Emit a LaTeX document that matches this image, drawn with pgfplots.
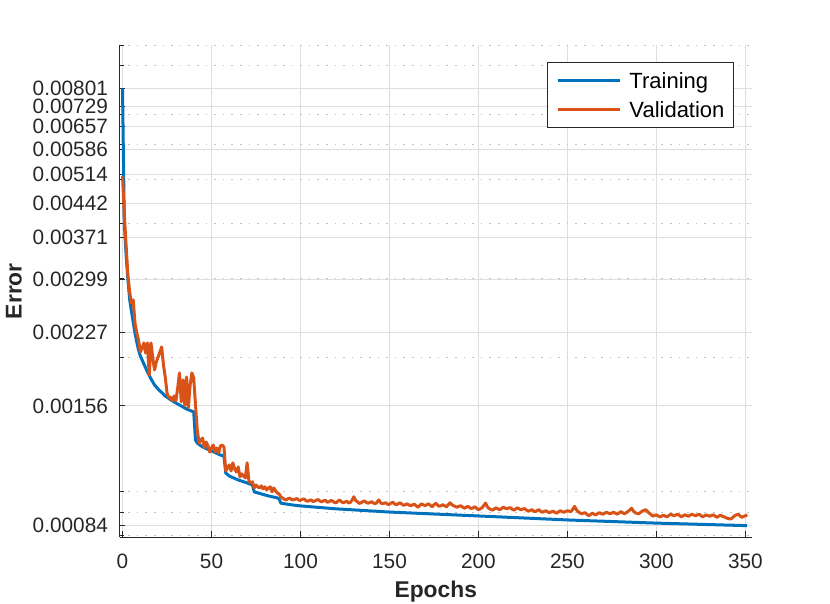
\documentclass[border=0pt]{standalone}
\usepackage{fontspec}
\setmainfont{Liberation Sans}
\usepackage{pgfplots}
\pgfplotsset{compat=1.18}
\definecolor{mblue}{rgb}{0,0.447,0.741}
\definecolor{morange}{rgb}{0.85,0.325,0.098}
\definecolor{axgray}{rgb}{0.15,0.15,0.15}
\definecolor{majgrid}{rgb}{0.87,0.87,0.87}
\definecolor{mingrid}{rgb}{0.76,0.76,0.76}
\begin{document}
\begin{tikzpicture}
\useasboundingbox (0,0) rectangle (415pt,302pt);
\begin{axis}[
  at={(59.75pt,33.35pt)}, anchor=south west,
  scale only axis, width=316.25pt, height=246.15pt,
  ymode=log,
  xmin=-1.7, xmax=353.7, ymin=0.000791, ymax=0.010016,
  axis x line*=bottom, axis y line*=left,
  axis line style={axgray, line width=0.5pt},
  xtick={0,50,100,150,200,250,300,350},
  xticklabels={0,50,100,150,200,250,300,350},
  ytick={0.00084,0.001557,0.002274,0.002991,0.003708,0.004425,0.005142,0.005859,0.006576,0.007293,0.00801},
  yticklabels={0.00084,0.00156,0.00227,0.00299,0.00371,0.00442,0.00514,0.00586,0.00657,0.00729,0.00801},
  minor ytick={0.0008,0.0009,0.001,0.002,0.003,0.004,0.005,0.006,0.007,0.008,0.009,0.01},
  tick align=inside, major tick length=3pt, minor tick length=2pt,
  tick style={axgray, line width=0.5pt},
  xmajorgrids, ymajorgrids, yminorgrids,
  major grid style={majgrid, line width=0.5pt, solid},
  minor grid style={mingrid, line width=0.5pt, dash pattern=on 0.8pt off 3.5pt},
  xticklabel style={font=\fontsize{10.4}{12}\selectfont, anchor=base, inner sep=0pt, yshift=-15.5pt, text=axgray},
  yticklabel style={font=\fontsize{10.4}{12}\selectfont, anchor=east, inner sep=0pt, xshift=-5.6pt, text=axgray},
  xlabel={Epochs}, ylabel={Error},
  xlabel style={font=\fontsize{11.4}{13}\selectfont\bfseries, at={(axis description cs:0.5,-0.1213)}, anchor=base, text=axgray},
  ylabel style={font=\fontsize{11.4}{13}\selectfont\bfseries, at={(axis description cs:-0.1668,0.5)}, anchor=center, text=axgray},
  legend style={at={(axis description cs:0.9715,0.9655)}, anchor=north east, draw=axgray, line width=0.5pt, fill=white,
    font=\fontsize{11}{13}\selectfont, inner xsep=4.5pt, inner ysep=3.75pt, row sep=3.9pt, column sep=4.2pt,
    nodes={inner sep=0pt, text height=9.25pt, text depth=1.25pt}},
  legend cell align=left,
  legend image code/.code={\draw[#1, line width=1.5pt] (0pt,0pt) -- (31pt,0pt);},
]
\addplot[mblue, line width=1.5pt, line join=round] table {
x y
0 0.00801
1 0.00400
2 0.00340
3 0.00300
4 0.00270
5 0.00254
6 0.002401
7 0.002269
8 0.002166
9 0.002078
10 0.002015
12 0.001934
14 0.001855
16 0.001790
18 0.001735
20 0.001699
24 0.001639
28 0.001598
32 0.001565
36 0.001533
40 0.001510
41 0.001306
42 0.001286
45 0.001260
50 0.001235
55 0.001209
57 0.001203
58 0.001102
60 0.001085
65 0.001063
70 0.001047
73 0.001036
74 0.0009996
78 0.000989
82 0.000979
87 0.000969
88 0.000964
89 0.000943
95 0.000935
100 0.000930
120 0.000916
150 0.000901
200 0.000883
250 0.000865
300 0.000851
351 0.00084
};
\addplot[morange, line width=1.5pt, line join=round] table {
x y
0 0.005097
1 0.004169
2 0.003571
3 0.003059
4 0.002803
5 0.002648
6 0.002690
7 0.002388
8 0.002269
9 0.002188
10 0.002056
11 0.002100
12 0.002155
13 0.002046
14 0.002155
15 0.001825
16 0.002155
17 0.001994
18 0.001875
19 0.001954
20 0.002005
21 0.002056
22 0.002111
23 0.001924
24 0.001808
25 0.001665
26 0.001625
27 0.001630
28 0.001598
29 0.001640
30 0.001600
31 0.001709
32 0.001846
33 0.001590
34 0.001781
35 0.001560
36 0.001808
37 0.001545
38 0.001735
39 0.001846
40 0.001799
41 0.001565
42 0.001376
43 0.001286
44 0.001306
45 0.001320
46 0.001254
47 0.001293
48 0.001267
49 0.001228
50 0.001254
51 0.001273
52 0.001228
53 0.001254
54 0.001222
55 0.001267
56 0.001273
57 0.001260
58 0.001114
59 0.001131
60 0.001149
61 0.001114
62 0.001161
63 0.001125
64 0.001108
65 0.001137
66 0.001080
67 0.001097
68 0.001085
69 0.001074
70 0.001161
71 0.001058
72 0.001047
73 0.001053
74 0.001020
75 0.001036
76 0.001026
77 0.001020
78 0.001031
79 0.001015
80 0.001026
81 0.001010
82 0.001020
83 0.001026
84 0.0009996
85 0.001020
86 0.001005
87 0.000994
88 0.000989
89 0.000974
90 0.000968
91 0.000962
92 0.000959
93 0.000965
94 0.000968
95 0.000961
96 0.000959
97 0.000963
98 0.000966
99 0.000958
100 0.000957
101 0.000962
102 0.000964
103 0.000956
104 0.000952
105 0.000957
106 0.000959
107 0.000951
108 0.000954
109 0.000958
110 0.000961
111 0.000953
112 0.000950
113 0.000955
114 0.000957
115 0.000948
116 0.000950
117 0.000956
118 0.000954
119 0.000947
120 0.000945
121 0.000953
122 0.000959
123 0.000950
124 0.000945
125 0.000949
126 0.000952
127 0.000944
128 0.000947
129 0.000958
130 0.000975
131 0.000956
132 0.000950
133 0.000942
134 0.000945
135 0.000951
136 0.000954
137 0.000946
138 0.000943
139 0.000947
140 0.000950
141 0.000944
142 0.000940
143 0.000948
144 0.000959
145 0.000946
146 0.000940
147 0.000943
148 0.000945
149 0.000937
150 0.000938
151 0.000944
152 0.000947
153 0.000939
154 0.000936
155 0.000941
156 0.000945
157 0.000938
158 0.000933
159 0.000936
160 0.000940
161 0.000934
162 0.000931
163 0.000935
164 0.000938
165 0.000930
166 0.000924
167 0.000932
168 0.000940
169 0.000935
170 0.000931
171 0.000936
172 0.000940
173 0.000932
174 0.000926
175 0.000935
176 0.000943
177 0.000934
178 0.000928
179 0.000931
180 0.000936
181 0.000930
182 0.000926
183 0.000935
184 0.000945
185 0.000936
186 0.000931
187 0.000927
188 0.000924
189 0.000928
190 0.000931
191 0.000925
192 0.000919
193 0.000923
194 0.000928
195 0.000922
196 0.000917
197 0.000921
198 0.000926
199 0.000918
200 0.000912
201 0.000916
202 0.000921
203 0.000932
204 0.000943
205 0.000926
206 0.000917
207 0.000913
208 0.000910
209 0.000916
210 0.000921
211 0.000915
212 0.000912
213 0.000918
214 0.000924
215 0.000919
216 0.000917
217 0.000920
218 0.000921
219 0.000914
220 0.000910
221 0.000916
222 0.000921
223 0.000915
224 0.000912
225 0.000915
226 0.000917
227 0.000910
228 0.000905
229 0.000908
230 0.000912
231 0.000906
232 0.000903
233 0.000908
234 0.000912
235 0.000904
236 0.000900
237 0.000904
238 0.000907
239 0.000901
240 0.000898
241 0.000902
242 0.000905
243 0.000899
244 0.000896
245 0.000902
246 0.000907
247 0.000903
248 0.000900
249 0.000904
250 0.000907
251 0.000905
252 0.000903
253 0.000914
254 0.000928
255 0.000912
256 0.000903
257 0.000897
258 0.000893
259 0.000896
260 0.000898
261 0.000890
262 0.000884
263 0.000890
264 0.000896
265 0.000891
266 0.000888
267 0.000894
268 0.000898
269 0.000893
270 0.000891
271 0.000896
272 0.000900
273 0.000896
274 0.000893
275 0.000897
276 0.000900
277 0.000895
278 0.000891
279 0.000897
280 0.000903
281 0.000898
282 0.000893
283 0.000898
284 0.000903
285 0.000911
286 0.000919
287 0.000906
288 0.000898
289 0.000895
290 0.000893
291 0.000899
292 0.000905
293 0.000909
294 0.000912
295 0.000903
296 0.000896
297 0.000889
298 0.000882
299 0.000886
300 0.000888
301 0.000883
302 0.000879
303 0.000883
304 0.000886
305 0.000882
306 0.000879
307 0.000885
308 0.000891
309 0.000887
310 0.000884
311 0.000888
312 0.000891
313 0.000885
314 0.000879
315 0.000884
316 0.000888
317 0.000885
318 0.000882
319 0.000887
320 0.000891
321 0.000887
322 0.000884
323 0.000888
324 0.000891
325 0.000884
326 0.000879
327 0.000884
328 0.000888
329 0.000884
330 0.000882
331 0.000886
332 0.000888
333 0.000882
334 0.000877
335 0.000882
336 0.000886
337 0.000882
338 0.000879
339 0.000875
340 0.000872
341 0.000870
342 0.000870
343 0.000877
344 0.000884
345 0.000888
346 0.000891
347 0.000883
348 0.000877
349 0.000881
350 0.000884
351 0.000888
};
\legend{Training, Validation}
\end{axis}
\end{tikzpicture}
\end{document}
